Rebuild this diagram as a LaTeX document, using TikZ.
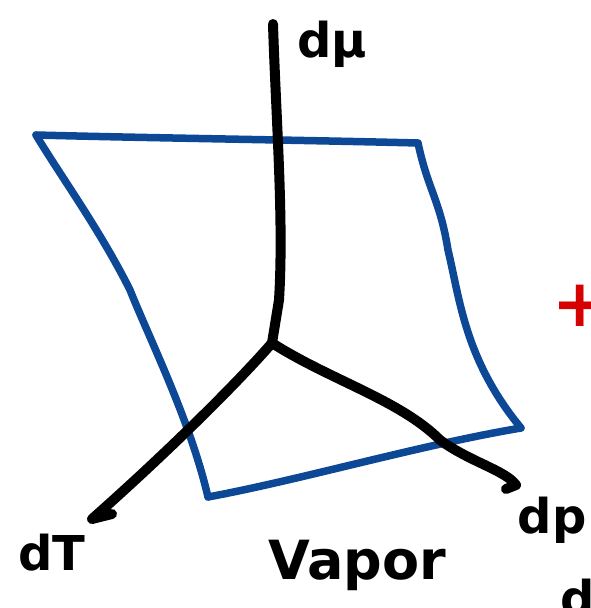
\documentclass[tikz,border=0pt]{standalone}
\usepackage{fontspec}
\setmainfont{DejaVu Sans}
\definecolor{pen}{RGB}{12,72,150}
\definecolor{redpen}{RGB}{215,0,0}
\tikzset{
  axis/.style={line width=10pt,line cap=round,line join=round,black},
  plane/.style={line width=7.5pt,line cap=round,line join=round,pen},
  lbl/.style={font=\fontsize{48}{50}\selectfont\bfseries,inner sep=0pt}
}
\begin{document}
\begin{tikzpicture}[x=1pt,y=-1pt]
\useasboundingbox (0,0) rectangle (590,608);
\clip (0,0) rectangle (590,608);
% corners and points
\coordinate (O) at (272,343);
\coordinate (top) at (273,24);
\coordinate (tl) at (36,135);
\coordinate (tr) at (418,143);
\coordinate (br) at (521,428);
\coordinate (bl) at (208,497);
\coordinate (Tend) at (92,519);
\coordinate (Ttick) at (112,514);
\coordinate (pend) at (516,485);
\coordinate (phook) at (506,489);
% blue plane
\draw[plane] (tl) .. controls (150,138) and (300,140) .. (tr);
\draw[plane] (tr) .. controls (428,190) and (440,200) .. (448,250)
  .. controls (460,300) and (465,360) .. (br);
\draw[plane] (br) .. controls (420,445) and (300,480) .. (bl);
\draw[plane] (bl) .. controls (190,420) and (150,340) .. (130,290)
  .. controls (100,230) and (60,175) .. (tl);
% axes
\draw[axis] (top) .. controls (276,120) and (284,220) .. (279,300) -- (O);
\draw[axis] (O) .. controls (240,380) and (170,450) .. (Tend) -- (Ttick);
\draw[axis] (O) .. controls (330,380) and (400,400) .. (440,440)
  .. controls (470,462) and (505,470) .. (pend) -- (phook);
% labels
\node[lbl,anchor=west] (lmu) at (297,44) {dμ};
\node[lbl] (lT) at (52,553) {dT};
\node[lbl] (lp) at (552,520) {dp};
\node[lbl,font=\fontsize{54}{56}\selectfont\bfseries] (lv) at (357,565) {Vapor};
\node[lbl,text=redpen,font=\fontsize{66}{66}\selectfont\bfseries] (plus) at (580,306) {+};
\node[lbl] (dd) at (578,598) {d};
\end{tikzpicture}
\end{document}
